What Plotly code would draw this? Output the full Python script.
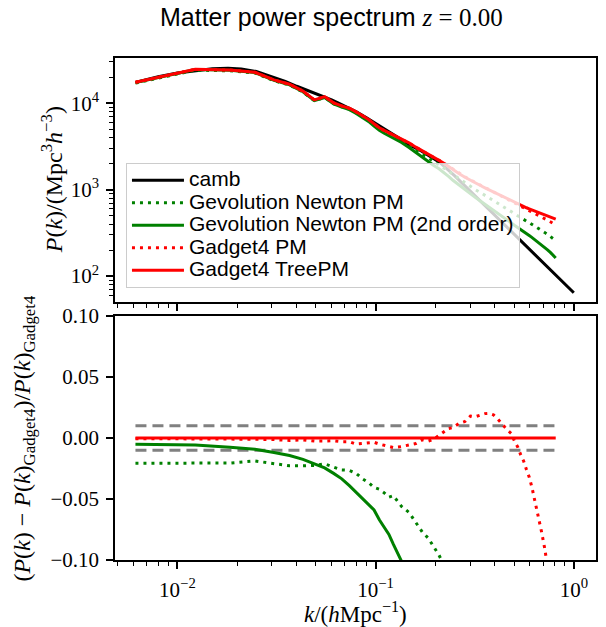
import plotly.graph_objects as go

# ---------------- data ----------------
k_sim = [0.00614, 0.0123, 0.0184, 0.0246, 0.0307, 0.0368, 0.0430, 0.0491, 0.0553, 0.0614,
         0.0675, 0.0737, 0.0798, 0.0860, 0.0921, 0.0982, 0.1044, 0.1105, 0.1167, 0.1228,
         0.1351, 0.1474, 0.1596, 0.1719, 0.1842, 0.1965, 0.2088, 0.2210, 0.2333, 0.2456,
         0.2640, 0.2824, 0.3009, 0.3193, 0.3377, 0.3561, 0.3745, 0.3930, 0.4114, 0.4298,
         0.4482, 0.4666, 0.4851, 0.5035, 0.5219, 0.5403, 0.5587, 0.5772, 0.5956, 0.6140,
         0.6386, 0.6631, 0.6877, 0.7122, 0.7368, 0.7614, 0.7859, 0.8105]

pk_gadget4_treepm = [17460, 24650, 24200, 22800, 18600, 16560, 13800, 10920, 11920, 10100,
                     9300, 8750, 7950, 7150, 6500, 5780, 5200, 4850, 4570, 4330,
                     3900, 3480, 3100, 2800, 2530, 2340, 2180, 2020, 1850, 1700,
                     1530, 1390, 1275, 1188, 1115, 1050, 991, 938, 890, 847,
                     807, 771, 738, 707, 678, 655, 635, 617, 600, 584,
                     564, 545, 528, 512, 497, 482, 469, 456]

ratio_gadget4_pm = [-0.0005, -0.0005, -0.0008, -0.001, -0.0013, -0.002, -0.0015, -0.0025, -0.0025, -0.0022,
                    -0.003, -0.003, -0.005, -0.0045, -0.004, -0.0035, -0.005, -0.006, -0.0075, -0.0078,
                    -0.007, -0.006, -0.0045, -0.0015, -0.0025, -0.001, 0.002, 0.0045, 0.0078, 0.0085,
                    0.012, 0.0135, 0.018, 0.0175, 0.019, 0.020, 0.0202, 0.019, 0.016, 0.012,
                    0.009, 0.006, 0.0035, -0.003, -0.0075, -0.014, -0.019, -0.026, -0.032, -0.040,
                    -0.052, -0.064, -0.077, -0.090, -0.104, -0.118, -0.133, -0.148]

ratio_gevolution_pm = [-0.0207, -0.0207, -0.0205, -0.0188, -0.021, -0.0228, -0.0228, -0.0225, -0.0212, -0.024,
                       -0.0262, -0.0265, -0.029, -0.0335, -0.0365, -0.0405, -0.042, -0.045, -0.0485, -0.0473,
                       -0.056, -0.061, -0.069, -0.077, -0.082, -0.089, -0.096, -0.104, -0.112, -0.12,
                       -0.13, -0.14, -0.15, -0.16, -0.17, -0.18, -0.19, -0.20, -0.21, -0.22,
                       -0.23, -0.24, -0.25, -0.26, -0.27, -0.28, -0.29, -0.30, -0.31, -0.32,
                       -0.33, -0.345, -0.36, -0.375, -0.39, -0.405, -0.42, -0.435]

ratio_gevolution_2nd = [-0.0052, -0.0058, -0.0075, -0.0093, -0.0118, -0.0143, -0.0175, -0.021, -0.0245, -0.029,
                        -0.0335, -0.039, -0.0445, -0.050, -0.054, -0.059, -0.067, -0.073, -0.079, -0.087,
                        -0.101, -0.118, -0.135, -0.152, -0.17, -0.186, -0.20, -0.215, -0.23, -0.245,
                        -0.265, -0.285, -0.305, -0.32, -0.337, -0.352, -0.367, -0.38, -0.395, -0.408,
                        -0.42, -0.432, -0.445, -0.457, -0.468, -0.48, -0.49, -0.50, -0.51, -0.52,
                        -0.535, -0.55, -0.565, -0.58, -0.595, -0.61, -0.628, -0.645]

k_camb = [0.0062, 0.008, 0.01, 0.0125, 0.015, 0.018, 0.021, 0.025, 0.03, 0.035,
          0.04, 0.045, 0.05, 0.055, 0.06, 0.065, 0.07, 0.08, 0.09, 0.1,
          0.11, 0.12, 0.135, 0.15, 0.17, 0.19, 0.21, 0.25, 0.3, 0.35,
          0.4, 0.5, 0.6, 0.7, 0.8, 0.9, 1.0]
pk_camb = [17500, 20300, 22300, 24000, 25000, 25300, 24800, 23300, 20200, 17900,
           15700, 14100, 12900, 11900, 10900, 10000, 9250, 7950, 6800, 5850,
           5050, 4450, 3780, 3250, 2800, 2380, 2080, 1450, 960, 678,
           502, 303, 201, 142, 105, 81, 64]

tolerance = [0.01, -0.01]

x_ticks = [0.01, 0.1, 1.0]
x_ticktext = ["10<sup>−2</sup>", "10<sup>−1</sup>", "10<sup>0</sup>"]
y_top_ticks = [100, 1000, 10000]
y_top_ticktext = ["10<sup>2</sup>", "10<sup>3</sup>", "10<sup>4</sup>"]
y_bot_ticks = [-0.10, -0.05, 0.0, 0.05, 0.10]
y_bot_ticktext = ["−0.10", "−0.05", "0.00", "0.05", "0.10"]

# ---------------- derived spectra ----------------
pk_gadget4_pm = [p * (1 + r) for p, r in zip(pk_gadget4_treepm, ratio_gadget4_pm)]
pk_gev_pm = [p * (1 + r) for p, r in zip(pk_gadget4_treepm, ratio_gevolution_pm)]
pk_gev_2nd = [p * (1 + r) for p, r in zip(pk_gadget4_treepm, ratio_gevolution_2nd)]
ratio_treepm = [0.0 for _ in k_sim]

GREEN = "#008000"
RED = "#ff0000"
DOT = "3px,5px"
LW = 3

fig = go.Figure()

# top panel
fig.add_trace(go.Scatter(x=k_camb, y=pk_camb, mode="lines", name="camb",
                         line=dict(color="black", width=LW), xaxis="x", yaxis="y"))
fig.add_trace(go.Scatter(x=k_sim, y=pk_gev_pm, mode="lines", name="Gevolution Newton PM",
                         line=dict(color=GREEN, width=LW, dash=DOT), xaxis="x", yaxis="y"))
fig.add_trace(go.Scatter(x=k_sim, y=pk_gev_2nd, mode="lines", name="Gevolution Newton PM (2nd order)",
                         line=dict(color=GREEN, width=LW), xaxis="x", yaxis="y"))
fig.add_trace(go.Scatter(x=k_sim, y=pk_gadget4_pm, mode="lines", name="Gadget4 PM",
                         line=dict(color=RED, width=LW, dash=DOT), xaxis="x", yaxis="y"))
fig.add_trace(go.Scatter(x=k_sim, y=pk_gadget4_treepm, mode="lines", name="Gadget4 TreePM",
                         line=dict(color=RED, width=LW), xaxis="x", yaxis="y"))

# bottom panel
for t in tolerance:
    fig.add_trace(go.Scatter(x=[k_sim[0], k_sim[-1]], y=[t, t], mode="lines", showlegend=False,
                             line=dict(color="#808080", width=LW, dash="11px,6px"),
                             xaxis="x2", yaxis="y2"))
fig.add_trace(go.Scatter(x=k_sim, y=ratio_gevolution_pm, mode="lines", showlegend=False,
                         line=dict(color=GREEN, width=LW, dash=DOT), xaxis="x2", yaxis="y2"))
fig.add_trace(go.Scatter(x=k_sim, y=ratio_gevolution_2nd, mode="lines", showlegend=False,
                         line=dict(color=GREEN, width=LW), xaxis="x2", yaxis="y2"))
fig.add_trace(go.Scatter(x=k_sim, y=ratio_gadget4_pm, mode="lines", showlegend=False,
                         line=dict(color=RED, width=LW, dash=DOT), xaxis="x2", yaxis="y2"))
fig.add_trace(go.Scatter(x=k_sim, y=ratio_treepm, mode="lines", showlegend=False,
                         line=dict(color=RED, width=LW), xaxis="x2", yaxis="y2"))

x_minor = [m * d for d in (0.001, 0.01, 0.1) for m in range(2, 10)]
y_minor = [m * d for d in (10, 100, 1000, 10000) for m in range(2, 10)]

TICKFONT = dict(family="Liberation Serif", size=21, color="black")
common = dict(showline=True, linecolor="black", linewidth=1.6, mirror=True, showgrid=False,
              zeroline=False, ticks="outside", ticklen=7, tickwidth=1.6, tickcolor="black",
              tickfont=TICKFONT, ticklabelstandoff=3)

fig.update_layout(
    width=606, height=627,
    margin=dict(l=115, r=8, t=58, b=67),
    paper_bgcolor="white", plot_bgcolor="white",
    showlegend=True,
    xaxis=dict(type="log", range=[-2.315, 0.112], domain=[0, 1], anchor="y",
               tickmode="array", tickvals=x_ticks, showticklabels=False,
               minor=dict(tickmode="array", tickvals=x_minor, ticks="outside", ticklen=4,
                          tickwidth=1.2, tickcolor="black", showgrid=False), **common),
    yaxis=dict(type="log", range=[1.70, 4.523], domain=[0.514, 1], anchor="x",
               tickmode="array", tickvals=y_top_ticks, ticktext=y_top_ticktext,
               minor=dict(tickmode="array", tickvals=y_minor, ticks="outside", ticklen=4,
                          tickwidth=1.2, tickcolor="black", showgrid=False), **common),
    xaxis2=dict(type="log", range=[-2.315, 0.112], domain=[0, 1], anchor="y2",
                tickmode="array", tickvals=x_ticks, ticktext=x_ticktext,
                minor=dict(tickmode="array", tickvals=x_minor, ticks="outside", ticklen=4,
                           tickwidth=1.2, tickcolor="black", showgrid=False), **common),
    yaxis2=dict(range=[-0.1, 0.1], domain=[0, 0.486], anchor="x2",
                tickmode="array", tickvals=y_bot_ticks, ticktext=y_bot_ticktext, **common),
    legend=dict(x=0.0228, y=0.791, xanchor="left", yanchor="top",
                bgcolor="rgba(255,255,255,0.8)", bordercolor="#cccccc", borderwidth=1,
                font=dict(family="Liberation Sans", size=15, color="black"),
                itemwidth=52, traceorder="normal"),
)

# legend text drawn larger than its line spacing
for tr in fig.data:
    if tr.showlegend is not False and tr.name:
        tr.name = '<span style="font-size:21px">' + tr.name + '</span>'

fig.add_annotation(text='Matter power spectrum <span style="font-family:Liberation Serif"><i>z</i> = 0.00</span>',
                   xref="paper", yref="paper", x=0.451, y=1.0817, xanchor="center", yanchor="middle",
                   showarrow=False, font=dict(family="Liberation Sans", size=25, color="black"))
fig.add_annotation(text="<i>P</i>(<i>k</i>)/(Mpc<sup>3</sup><i>h</i><sup>−3</sup>)",
                   xref="paper", yref="paper", x=-0.1304, y=0.757, xanchor="center", yanchor="middle",
                   textangle=-90, showarrow=False,
                   font=dict(family="Liberation Serif", size=24, color="black"))
fig.add_annotation(text="(<i>P</i>(<i>k</i>) − <i>P</i>(<i>k</i>)<sub>Gadget4</sub>)/<i>P</i>(<i>k</i>)<sub>Gadget4</sub>",
                   xref="paper", yref="paper", x=-0.19, y=0.243, xanchor="center", yanchor="middle",
                   textangle=-90, showarrow=False,
                   font=dict(family="Liberation Serif", size=24, color="black"))
fig.add_annotation(text="<i>k</i>/(<i>h</i>Mpc<sup>−1</sup>)",
                   xref="paper", yref="paper", x=0.5, y=-0.104, xanchor="center", yanchor="middle",
                   showarrow=False, font=dict(family="Liberation Serif", size=23, color="black"))

fig.write_html("out.html")
